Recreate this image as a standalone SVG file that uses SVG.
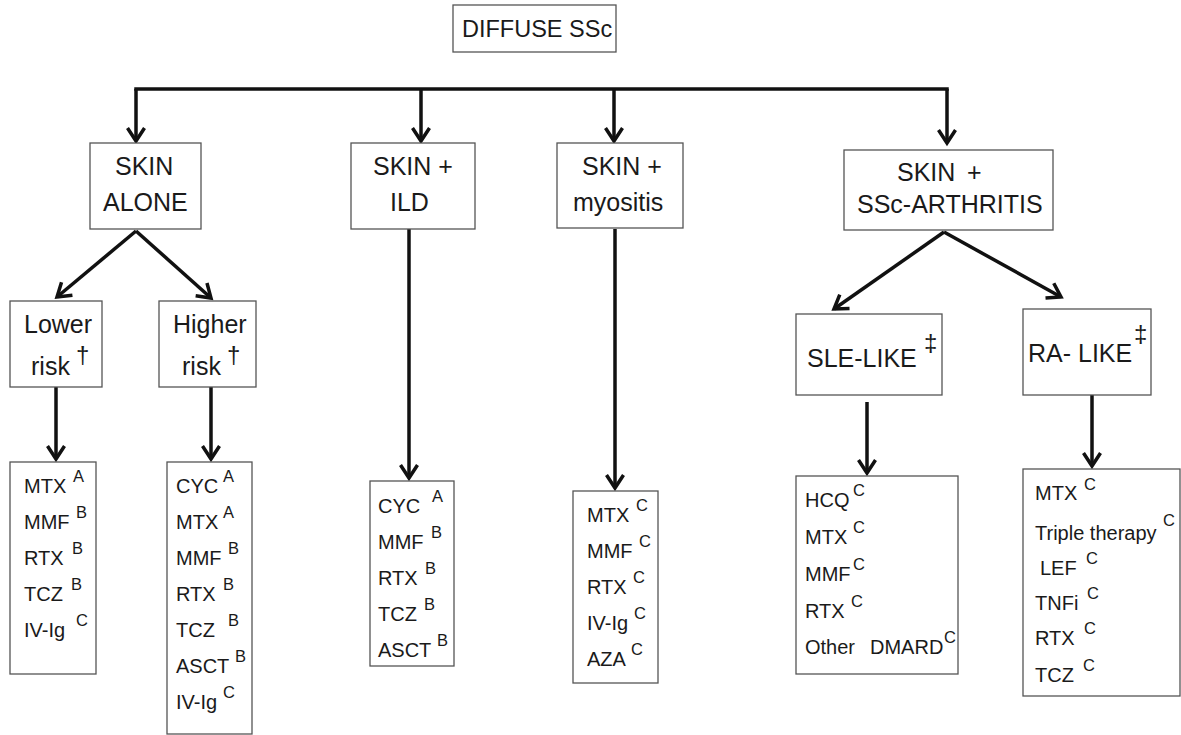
<svg xmlns="http://www.w3.org/2000/svg" width="1181" height="735" viewBox="0 0 1181 735">
<style>
.box{fill:#fff;stroke:#555;stroke-width:1.3}
.t{font-family:"Liberation Sans",Arial,sans-serif;fill:#1a1a1a}
.n{font-size:25px}
.l{font-size:20px}
.s{font-size:16.5px}
.d{font-size:24px}
.c{fill:none;stroke:#111;stroke-width:3.5}
</style>
<defs>
<marker id="ah" markerUnits="userSpaceOnUse" viewBox="-18 -12 24 24" markerWidth="24" markerHeight="24" refX="0" refY="0" orient="auto">
<path d="M-13,-8.5 L0,0 L-13,8.5" fill="none" stroke="#111" stroke-width="3.5" stroke-linejoin="miter" stroke-miterlimit="10"/>
</marker>
</defs>
<rect width="1181" height="735" fill="#fff"/>

<g id="connectors">
<path class="c" d="M136,89 H947" stroke-linecap="square"/>
<path class="c" d="M136,89 V141" marker-end="url(#ah)"/>
<path class="c" d="M421,89 V141" marker-end="url(#ah)"/>
<path class="c" d="M614,89 V141" marker-end="url(#ah)"/>
<path class="c" d="M947,89 V143" marker-end="url(#ah)"/>
<path class="c" d="M136,231 L57,297" marker-end="url(#ah)"/>
<path class="c" d="M136,231 L211,298" marker-end="url(#ah)"/>
<path class="c" d="M56,387 V459" marker-end="url(#ah)"/>
<path class="c" d="M211,387 V459" marker-end="url(#ah)"/>
<path class="c" d="M409,229 V478" marker-end="url(#ah)"/>
<path class="c" d="M615,229 V488" marker-end="url(#ah)"/>
<path class="c" d="M944,232 L834,309" marker-end="url(#ah)"/>
<path class="c" d="M944,232 L1061,297" marker-end="url(#ah)"/>
<path class="c" d="M867,402 V473" marker-end="url(#ah)"/>
<path class="c" d="M1092,395 V466" marker-end="url(#ah)"/>
</g>

<g id="diffuse">
<rect class="box" x="453" y="5" width="163" height="47"/>
<text class="t" x="462" y="37" font-size="23.5">DIFFUSE SSc</text>
</g>

<g id="skin-alone">
<rect class="box" x="90" y="143" width="111" height="86"/>
<text class="t n" x="115" y="175">SKIN</text>
<text class="t n" x="103" y="211">ALONE</text>
</g>

<g id="skin-ild">
<rect class="box" x="351" y="143" width="124" height="86"/>
<text class="t n" x="373" y="175">SKIN +</text>
<text class="t n" x="390" y="211">ILD</text>
</g>

<g id="skin-myositis">
<rect class="box" x="557" y="143" width="126" height="85"/>
<text class="t n" x="582" y="175">SKIN +</text>
<text class="t n" x="573" y="211">myositis</text>
</g>

<g id="skin-arthritis">
<rect class="box" x="844" y="150" width="209" height="80"/>
<text class="t n" x="897" y="181">SKIN <tspan x="967">+</tspan></text>
<text class="t n" x="857" y="213">SSc-ARTHRITIS</text>
</g>

<g id="lower-risk">
<rect class="box" x="10" y="301" width="92" height="86"/>
<text class="t n" x="24" y="333">Lower</text>
<text class="t n" x="31" y="375">risk<tspan class="d" x="76" y="363">†</tspan></text>
</g>

<g id="higher-risk">
<rect class="box" x="159" y="301" width="97" height="86"/>
<text class="t n" x="173" y="333">Higher</text>
<text class="t n" x="182" y="375">risk<tspan class="d" x="227" y="363">†</tspan></text>
</g>

<g id="sle-like">
<rect class="box" x="796" y="314" width="146" height="81"/>
<text class="t n" x="807" y="367">SLE-LIKE<tspan class="d" x="924" y="351">‡</tspan></text>
</g>

<g id="ra-like">
<rect class="box" x="1023" y="309" width="128" height="86"/>
<text class="t n" x="1028" y="362">RA- LIKE<tspan class="d" x="1134" y="342">‡</tspan></text>
</g>

<g id="leaf-lower">
<rect class="box" x="10" y="462" width="86" height="212"/>
<text class="t l" x="24" y="493">MTX<tspan class="s" x="73" y="482">A</tspan></text>
<text class="t l" x="24" y="529">MMF<tspan class="s" x="76" y="518">B</tspan></text>
<text class="t l" x="24" y="565">RTX<tspan class="s" x="72" y="554">B</tspan></text>
<text class="t l" x="24" y="601">TCZ<tspan class="s" x="71" y="590">B</tspan></text>
<text class="t l" x="24" y="637">IV-Ig<tspan class="s" x="76" y="626">C</tspan></text>
</g>

<g id="leaf-higher">
<rect class="box" x="167" y="462" width="85" height="272"/>
<text class="t l" x="176" y="493">CYC<tspan class="s" x="223" y="482">A</tspan></text>
<text class="t l" x="176" y="529">MTX<tspan class="s" x="223" y="518">A</tspan></text>
<text class="t l" x="176" y="565">MMF<tspan class="s" x="228" y="554">B</tspan></text>
<text class="t l" x="176" y="601">RTX<tspan class="s" x="223" y="590">B</tspan></text>
<text class="t l" x="176" y="637">TCZ<tspan class="s" x="228" y="626">B</tspan></text>
<text class="t l" x="176" y="673">ASCT<tspan class="s" x="235" y="662">B</tspan></text>
<text class="t l" x="176" y="709">IV-Ig<tspan class="s" x="223" y="698">C</tspan></text>
</g>

<g id="leaf-ild">
<rect class="box" x="370" y="481" width="84" height="185"/>
<text class="t l" x="378" y="513">CYC<tspan class="s" x="432" y="502">A</tspan></text>
<text class="t l" x="378" y="549">MMF<tspan class="s" x="431" y="538">B</tspan></text>
<text class="t l" x="378" y="585">RTX<tspan class="s" x="425" y="574">B</tspan></text>
<text class="t l" x="378" y="621">TCZ<tspan class="s" x="424" y="610">B</tspan></text>
<text class="t l" x="378" y="657">ASCT<tspan class="s" x="437" y="646">B</tspan></text>
</g>

<g id="leaf-myositis">
<rect class="box" x="573" y="491" width="85" height="192"/>
<text class="t l" x="587" y="522">MTX<tspan class="s" x="636" y="511">C</tspan></text>
<text class="t l" x="587" y="558">MMF<tspan class="s" x="639" y="547">C</tspan></text>
<text class="t l" x="587" y="594">RTX<tspan class="s" x="633" y="583">C</tspan></text>
<text class="t l" x="587" y="630">IV-Ig<tspan class="s" x="634" y="619">C</tspan></text>
<text class="t l" x="587" y="666">AZA<tspan class="s" x="631" y="655">C</tspan></text>
</g>

<g id="leaf-sle">
<rect class="box" x="796" y="476" width="162" height="198"/>
<text class="t l" x="805" y="507">HCQ<tspan class="s" x="853" y="496">C</tspan></text>
<text class="t l" x="805" y="544">MTX<tspan class="s" x="853" y="533">C</tspan></text>
<text class="t l" x="805" y="581">MMF<tspan class="s" x="853" y="570">C</tspan></text>
<text class="t l" x="805" y="618">RTX<tspan class="s" x="851" y="607">C</tspan></text>
<text class="t l" x="805" y="654">Other <tspan x="870">DMARD</tspan><tspan class="s" x="944" y="643">C</tspan></text>
</g>

<g id="leaf-ra">
<rect class="box" x="1023" y="469" width="157" height="227"/>
<text class="t l" x="1035" y="500">MTX<tspan class="s" x="1084" y="490">C</tspan></text>
<text class="t l" x="1035" y="540">Triple therapy<tspan class="s" x="1163" y="526">C</tspan></text>
<text class="t l" x="1040" y="575">LEF<tspan class="s" x="1086" y="564">C</tspan></text>
<text class="t l" x="1035" y="610">TNFi<tspan class="s" x="1087" y="599">C</tspan></text>
<text class="t l" x="1035" y="645">RTX<tspan class="s" x="1084" y="634">C</tspan></text>
<text class="t l" x="1035" y="682">TCZ<tspan class="s" x="1083" y="671">C</tspan></text>
</g>
</svg>
